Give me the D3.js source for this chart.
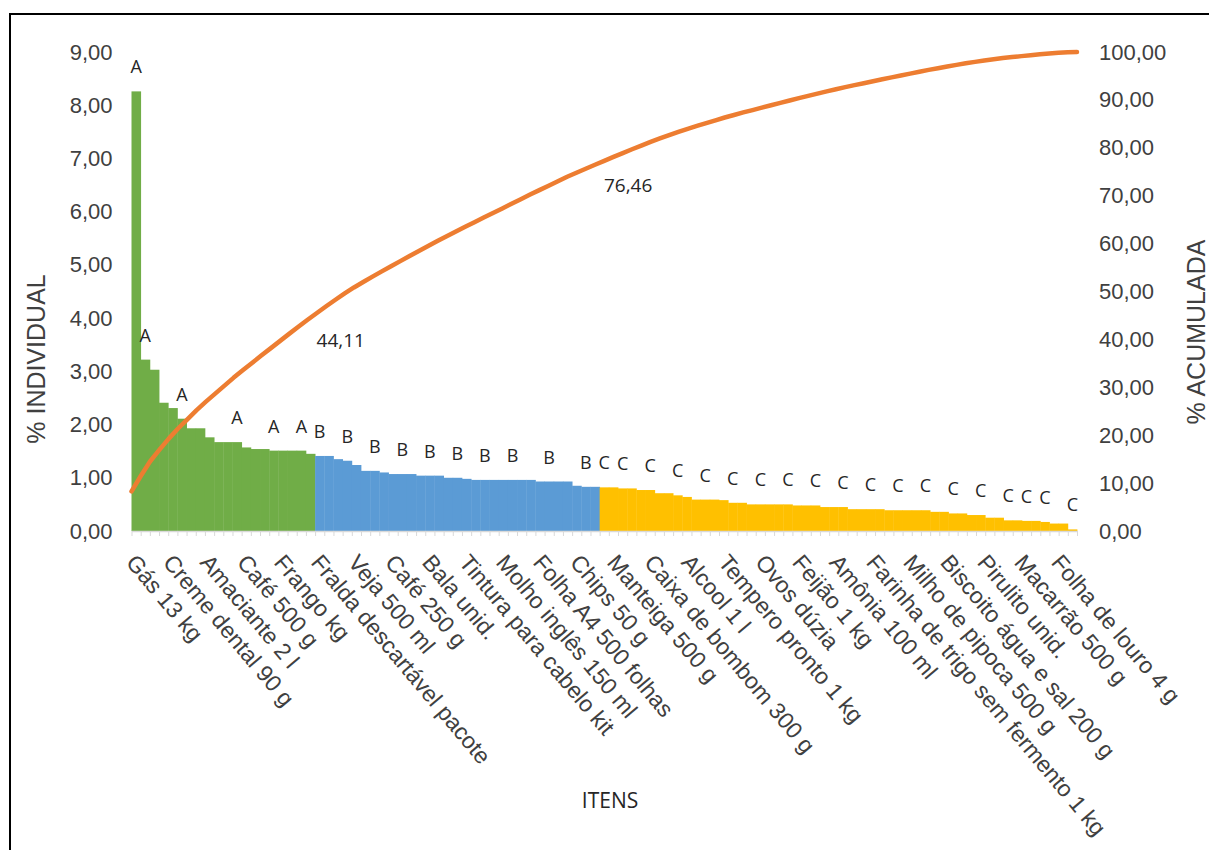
<!DOCTYPE html>
<html>
<head>
<meta charset="utf-8">
<script src="https://cdn.jsdelivr.net/npm/d3@7"></script>
<style>
  body { margin: 0; background: #fff; }
  svg text { font-family: "Liberation Sans", Arial, sans-serif; fill: #404040; }
  .calibri { font-family: "Open Sans", sans-serif !important; fill: #262626 !important; }
</style>
</head>
<body>
<script>
// rotulos que aparecem no eixo (um a cada 4 itens)
const rotulosItens = ["Gás 13 kg","Creme dental 90 g","Amaciante 2 l","Café 500 g","Frango kg",
  "Fralda descartável pacote","Veja 500 ml","Café 250 g","Bala unid.","Tintura para cabelo kit",
  "Molho inglês 150 ml","Folha A4 500 folhas","Chips 50 g","Manteiga 500 g","Caixa de bombom 300 g",
  "Alcool 1 l","Tempero pronto 1 kg","Ovos dúzia","Feijão 1 kg","Amônia 100 ml",
  "Farinha de trigo sem fermento 1 kg","Milho de pipoca 500 g","Biscoito água e sal 200 g",
  "Pirulito unid.","Macarrão 500 g","Folha de louro 4 g"]

// % individual por classe
const classeA = [8.26,3.22,3.03,2.41,2.31,2.11,1.93,1.93,1.76,1.67,1.67,1.67,1.57,1.54,1.54,1.51,1.51,1.51,1.51,1.45]
const classeB = [1.41,1.41,1.35,1.32,1.24,1.13,1.13,1.10,1.07,1.07,1.07,1.04,1.04,1.04,1.00,1.00,0.98,
  0.96,0.96,0.96,0.96,0.96,0.96,0.96,0.93,0.93,0.93,0.93,0.85,0.83,0.83]
const classeC = [0.82,0.82,0.80,0.80,0.77,0.77,0.71,0.71,0.67,0.64,0.59,0.59,0.59,0.58,0.53,0.53,
  0.50,0.50,0.50,0.50,0.50,0.48,0.48,0.48,0.45,0.45,0.45,0.41,0.41,0.41,0.41,
  0.39,0.39,0.39,0.39,0.39,0.36,0.36,0.33,0.33,0.30,0.30,0.25,0.25,0.20,0.20,0.19,0.19,0.17,0.14,0.14,0.03]

// itens que recebem a letra da classe
const posRotuloClasse = [0,1,5,11,15,18, 20,23,26,29,32,35,38,41,45,49,
  51,53,56,59,62,65,68,71,74,77,80,83,86,89,92,95,97,99,102]
// pontos da curva com valor acumulado
const posAcumulado = [19,50]

const ticksIndividual = [0,1,2,3,4,5,6,7,8,9]
const ticksAcumulada = [0,10,20,30,40,50,60,70,80,90,100]

const cores = {A:"#70AD47", B:"#5B9BD5", C:"#FFC000"}

const valores = [...classeA, ...classeB, ...classeC]
const classes = valores.map((v,i) => i < classeA.length ? "A" : (i < classeA.length + classeB.length ? "B" : "C"))
const acumulado = d3.cumsum(valores)
const n = valores.length

const br = d3.formatLocale({decimal:",", thousands:".", grouping:[3], currency:["R$",""]})
const fmt = br.format(".2f")

const width = 1209, height = 850
const x0 = 131.5, x1 = 1077

const svg = d3.select("body").append("svg")
  .attr("width", width).attr("height", height)

svg.append("rect")
  .attr("x",10).attr("y",14).attr("width",1400).attr("height",1000)
  .attr("fill","none").attr("stroke","#000").attr("stroke-width",2)

const x = d3.scaleBand().domain(d3.range(n)).range([x0, x1]).padding(0)
const xBorda = d3.scaleLinear().domain([0, n]).range([x0, x1])
const xLinha = d3.scalePoint().domain(d3.range(n)).range([x0, x1])
const yEsq = d3.scaleLinear().domain([0, 9]).range([531, 52])
const yDir = d3.scaleLinear().domain([0, 100]).range([531, 52])

// barras
svg.append("g").selectAll("rect")
  .data(valores)
  .enter()
  .append("rect")
  .attr("x", (d,i) => x(i))
  .attr("y", d => yEsq(d))
  .attr("width", x.bandwidth() + 0.4)
  .attr("height", d => yEsq(0) - yEsq(d))
  .attr("fill", (d,i) => cores[classes[i]])

// eixo x (marcas nas divisoes)
const eixoX = svg.append("g")
  .attr("transform", "translate(0," + yEsq(0) + ")")
  .call(d3.axisBottom(xBorda).tickValues(d3.range(n + 1)).tickFormat("").tickSize(5).tickSizeOuter(0))
eixoX.selectAll("line").attr("stroke", "#d9d9d9")
eixoX.select(".domain").attr("stroke", "#d9d9d9").attr("stroke-width", 1.5)

// rotulos do eixo x
svg.append("g").selectAll("text")
  .data(rotulosItens)
  .enter()
  .append("text")
  .attr("transform", (d,i) => "translate(" + (x(i*4) + x.bandwidth()/2 + 2 + i*0.3) + ",552) rotate(50)")
  .attr("dy", "0.75em")
  .attr("font-size", 23)
  .attr("fill", "#262626")
  .text(d => d)

// eixo esquerdo
const eixoEsq = svg.append("g")
  .attr("transform", "translate(" + x0 + ",0)")
  .call(d3.axisLeft(yEsq).tickValues(ticksIndividual).tickFormat(fmt).tickSize(0).tickPadding(19))
eixoEsq.select(".domain").remove()
eixoEsq.selectAll("text").attr("font-size", 22).attr("font-family", null).attr("fill", "#404040")

// eixo direito
const eixoDir = svg.append("g")
  .attr("transform", "translate(" + x1 + ",0)")
  .call(d3.axisRight(yDir).tickValues(ticksAcumulada).tickFormat(fmt).tickSize(0).tickPadding(22))
eixoDir.select(".domain").remove()
eixoDir.selectAll("text").attr("font-size", 22).attr("font-family", null).attr("fill", "#404040")

// curva acumulada
svg.append("path")
  .datum(acumulado)
  .attr("fill", "none")
  .attr("stroke", "#ED7D31")
  .attr("stroke-width", 4.5)
  .attr("stroke-linejoin", "round")
  .attr("stroke-linecap", "round")
  .attr("d", d3.line().x((d,i) => xLinha(i)).y(d => yDir(d)))

// letras das classes
svg.append("g").selectAll("text")
  .data(posRotuloClasse)
  .enter()
  .append("text")
  .attr("class", "calibri")
  .attr("x", i => x(i) + x.bandwidth()/2)
  .attr("y", i => yEsq(valores[i]) - 18)
  .attr("text-anchor", "middle")
  .attr("font-size", 18)
  .text(i => classes[i])

// valores acumulados
svg.append("g").selectAll("text")
  .data(posAcumulado)
  .enter()
  .append("text")
  .attr("class", "calibri")
  .attr("x", i => xLinha(i) + 9)
  .attr("y", i => yDir(acumulado[i]) + 27)
  .attr("font-size", 19)
  .text(i => fmt(acumulado[i]))

// titulos
svg.append("text")
  .attr("transform", "translate(45,359) rotate(-90)")
  .attr("text-anchor", "middle")
  .attr("font-size", 25)
  .text("% INDIVIDUAL")

svg.append("text")
  .attr("transform", "translate(1205,332) rotate(-90)")
  .attr("text-anchor", "middle")
  .attr("font-size", 25)
  .text("% ACUMULADA")

svg.append("text")
  .attr("class", "calibri")
  .attr("x", 610).attr("y", 808)
  .attr("text-anchor", "middle")
  .attr("font-size", 21)
  .text("ITENS")
</script>
</body>
</html>
